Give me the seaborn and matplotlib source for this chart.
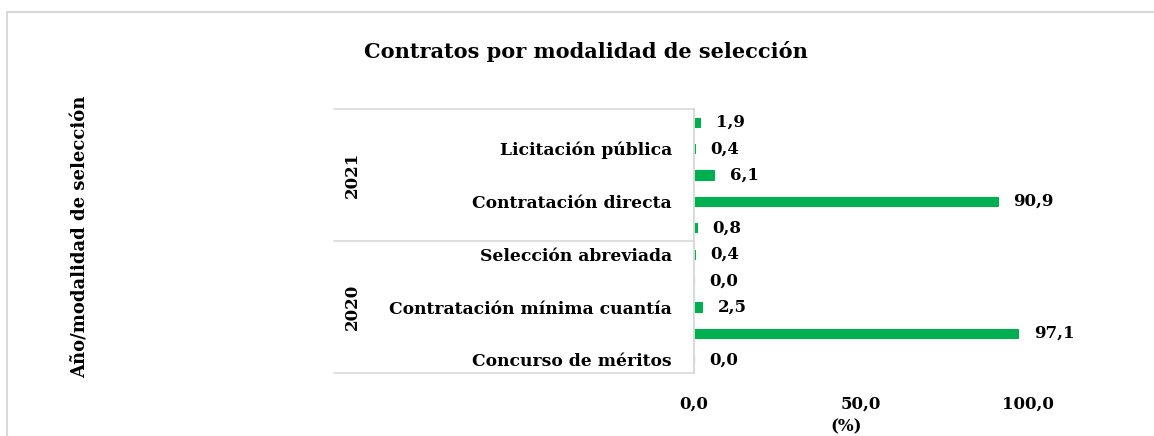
import pandas as pd
import matplotlib
matplotlib.use('Agg')
import matplotlib.pyplot as plt
import seaborn as sns
from matplotlib.lines import Line2D

# Datos (porcentaje de contratos por modalidad)
modalidades = ['Concurso de méritos', 'Contratación directa', 'Contratación mínima cuantía',
               'Licitación pública', 'Selección abreviada']
valores_2020 = [0.0, 97.1, 2.5, 0.0, 0.4]
valores_2021 = [0.8, 90.9, 6.1, 0.4, 1.9]
anios = ['2021', '2020']
ticks_x = [0, 50, 100]

sns.set_theme(style='white')
plt.rcParams['font.family'] = ['DejaVu Serif']
plt.rcParams['font.weight'] = 'bold'
plt.rcParams['text.color'] = 'black'
plt.rcParams['xtick.color'] = 'black'
plt.rcParams['ytick.color'] = 'black'

# tabla larga, de arriba hacia abajo como en el original
filas = []
for anio, vals in [('2021', valores_2021), ('2020', valores_2020)]:
    for mod, v in reversed(list(zip(modalidades, vals))):
        filas.append({'anio': anio, 'modalidad': mod, 'valor': v, 'clave': anio + '|' + mod})
df = pd.DataFrame(filas)

fig = plt.figure(figsize=(11.54, 4.36), dpi=100)
ax = fig.add_axes([694 / 1154, 1 - 373 / 436, 401 / 1154, 264 / 436])

sns.barplot(data=df, x='valor', y='clave', order=list(df['clave']), color='#00B050',
            width=0.35, orient='h', saturation=1, edgecolor='#00B050', linewidth=0.8, ax=ax)

ax.set_xlim(0, 120)
ax.set_ylim(9.5, -0.5)
ax.set_xticks(ticks_x)
ax.set_xticklabels([f'{t:.1f}'.replace('.', ',') for t in ticks_x], fontsize=12, fontweight='bold')
ax.tick_params(axis='x', length=0, pad=16)

# Excel salta una etiqueta de cada dos
etiquetas = [m if i % 2 == 1 else '' for i, m in enumerate(df['modalidad'])]
ax.set_yticks(range(len(df)))
ax.set_yticklabels(etiquetas, fontsize=12.3, fontweight='bold')
ax.tick_params(axis='y', length=0, pad=16)
ax.set_xlabel('')
ax.set_ylabel('')

for s in ['top', 'right', 'bottom']:
    ax.spines[s].set_visible(False)
ax.spines['left'].set_color('#d9d9d9')
ax.spines['left'].set_linewidth(1.4)

ax.bar_label(ax.containers[0], labels=[f'{v:.1f}'.replace('.', ',') for v in df['valor']],
             padding=11, fontsize=12, fontweight='bold')

# recuadro de categorias
ytr = ax.get_yaxis_transform()
x0 = (334 - 694) / 401
for yy in [-0.5, 4.5, 9.5]:
    ax.plot([x0, 0], [yy, yy], color='#d9d9d9', lw=1.2, transform=ytr, clip_on=False)
for i, anio in enumerate(anios):
    ax.text((352 - 694) / 401, 2 + 5 * i, anio, rotation=90, ha='center', va='center',
            fontsize=12, fontweight='bold', transform=ytr)

fig.text(586 / 1154, 1 - 52 / 436, 'Contratos por modalidad de selección', ha='center',
         va='center', fontsize=15, fontweight='bold')
fig.text(81 / 1154, 1 - 237 / 436, 'Año/modalidad de selección', rotation=90, ha='center',
         va='center', fontsize=13, fontweight='bold')
fig.text(846 / 1154, 1 - 427 / 436, '(%)', ha='center', va='center', fontsize=12,
         fontweight='bold')

# borde del area del grafico
fig.add_artist(Line2D([7 / 1154, 7 / 1154], [0, 1 - 12.5 / 436], color='#d9d9d9', lw=1.5,
                      transform=fig.transFigure))
fig.add_artist(Line2D([7 / 1154, 1], [1 - 12.5 / 436, 1 - 12.5 / 436], color='#d9d9d9', lw=1.5,
                      transform=fig.transFigure))

fig.savefig('out.png', dpi=100)
